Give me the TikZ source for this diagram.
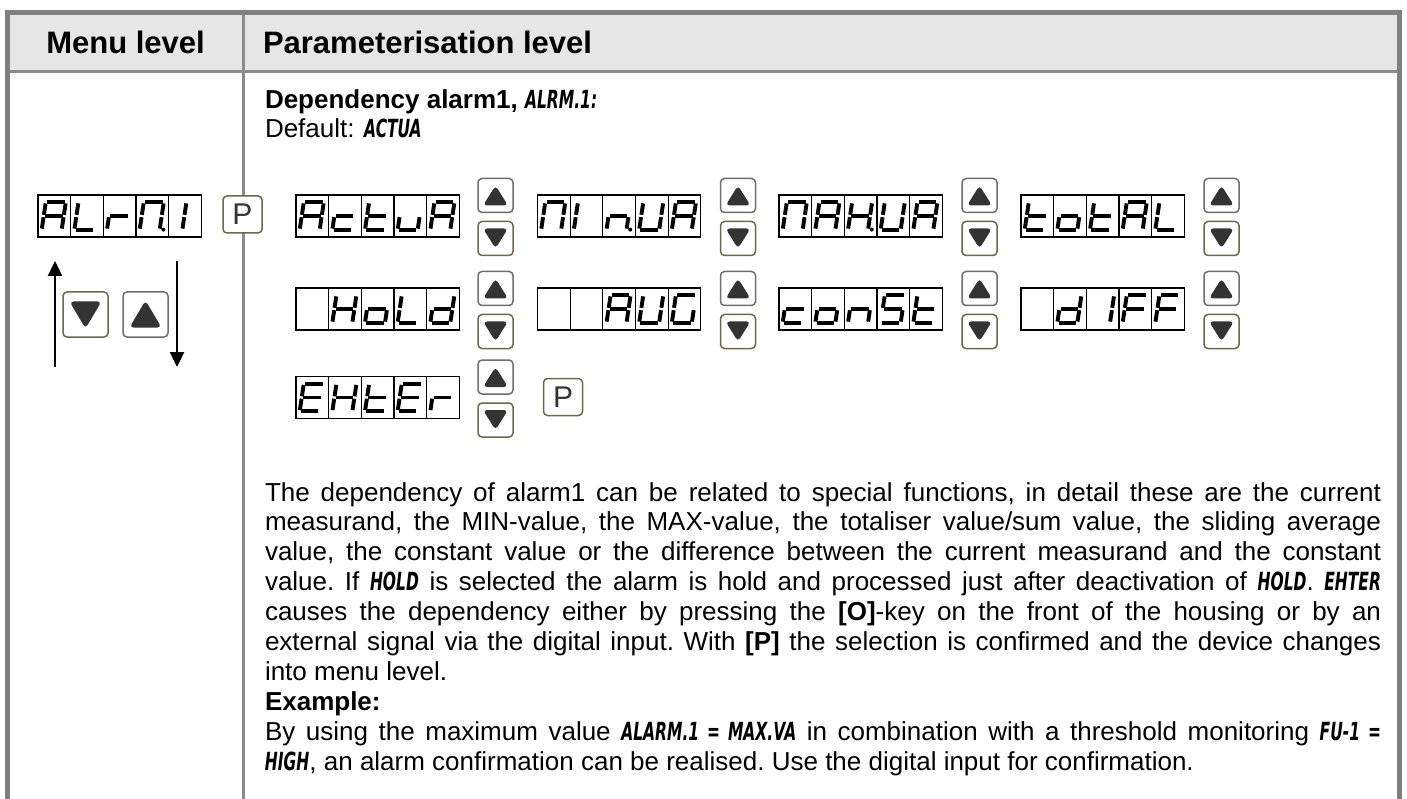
\documentclass[tikz,border=0pt]{standalone}
\usepackage{fontspec}
\setmainfont{Liberation Sans}
\newfontfamily\lcdfont[FakeStretch=0.62]{DejaVu Sans}
\usetikzlibrary{arrows.meta}
\definecolor{bordergray}{HTML}{808080}
\definecolor{gridgray}{HTML}{8C8C8C}
\definecolor{headfill}{HTML}{E6E6E6}
\definecolor{keyedge}{HTML}{6E6E6E}
\definecolor{keyedgeb}{HTML}{6B684C}
\definecolor{keytri}{HTML}{333333}
\newcommand{\lcd}[1]{{\fontsize{25}{25}\lcdfont\bfseries\itshape #1}}
% segment lists: points 1 TL,2 TR,3 ML,4 MR,5 BL,6 BR,7/8/9 centre column
\def\chA{1/2,2/4,4/6,3/5,1/3,3/4}
\def\chc{5/6,3/5,3/4}
\def\cht{5/6,3/5,1/3,3/4}
\def\chu{4/6,5/6,3/5}
\def\chPi{1/2,2/4,4/6,3/5,1/3}
\def\chn{4/6,3/5,3/4}
\def\chU{2/4,4/6,5/6,3/5,1/3}
\def\chH{2/4,4/6,3/5,1/3,3/4}
\def\cho{4/6,5/6,3/5,3/4}
\def\chL{5/6,3/5,1/3}
\def\chd{2/4,4/6,5/6,3/5,3/4}
\def\chG{1/2,4/6,5/6,3/5,1/3}
\def\chS{1/2,4/6,5/6,1/3,3/4}
\def\chE{1/2,5/6,3/5,1/3,3/4}
\def\chr{3/5,3/4}
\def\chF{1/2,3/5,1/3,3/4}
\def\chOneR{2/4,4/6}
\def\chOneL{3/5,1/3}
\def\chOneC{7/8,8/9}
\def\chN{}
\newcommand{\lcdcell}[3]{%
  \ifx#3\chN\else
  \begin{scope}[shift={(#1+7.8,#2+7.2)},xslant=0.15]
    \coordinate (pt1) at (0,0);   \coordinate (pt2) at (20,0);
    \coordinate (pt3) at (0,13.8);\coordinate (pt4) at (20,13.8);
    \coordinate (pt5) at (0,27.6);  \coordinate (pt6) at (20,27.6);
    \coordinate (pt7) at (10,0);  \coordinate (pt8) at (10,13.8);
    \coordinate (pt9) at (10,27.6);
    \foreach \s/\e in #3 {\draw[lcdseg] (pt\s) -- (pt\e);}
  \end{scope}\fi}
\newcommand{\lcddisp}[8]{%
  \node[lcdbox, anchor=north west] (#1) at (#2,#3) {};
  \foreach \i in {1,...,4} {\draw[cellline] ({#2+\i*32.66},#3) -- ++(0,42);}
  \lcdcell{#2}{#3}{#4}
  \lcdcell{#2+32.66}{#3}{#5}
  \lcdcell{#2+65.32}{#3}{#6}
  \lcdcell{#2+97.98}{#3}{#7}
  \lcdcell{#2+130.64}{#3}{#8}}
\newcommand{\lcddp}[3]{\fill ({#1+#3*32.66+27.4},{#2+34.6}) circle (2);}
\begin{document}
\begin{tikzpicture}[x=1pt,y=-1pt,
  every node/.style={inner sep=0pt,outer sep=0pt},
  outerline/.style={draw=bordergray,line width=5pt},
  gridline/.style={draw=gridgray,line width=2.5pt},
  headtext/.style={font=\fontsize{31}{36}\selectfont\bfseries},
  bodytext/.style={font=\fontsize{26}{29.9}\selectfont},
  lcdbox/.style={draw=black,line width=1.1pt,minimum width=163.3pt,minimum height=42pt},
  cellline/.style={draw=black,line width=1.1pt},
  lcdseg/.style={line width=3.9pt,shorten <=1.2pt,shorten >=1.2pt},
  keybox/.style={draw=keyedge,fill=white,line width=1.5pt,rounded corners=4pt,minimum width=35pt,minimum height=34pt},
  ukey/.style={keybox,path picture={\fill[keytri] ([shift={(-12.5,10)}]path picture bounding box.center) -- ([shift={(12.5,10)}]path picture bounding box.center) -- ([shift={(0,-10)}]path picture bounding box.center) -- cycle;}},
  dkey/.style={keybox,draw=keyedgeb,path picture={\fill[keytri] ([shift={(-12.5,-10)}]path picture bounding box.center) -- ([shift={(12.5,-10)}]path picture bounding box.center) -- ([shift={(0,10)}]path picture bounding box.center) -- cycle;}},
  ukeyL/.style={keybox,minimum width=45pt,minimum height=45pt,path picture={\fill[keytri] ([shift={(-16,13)}]path picture bounding box.center) -- ([shift={(16,13)}]path picture bounding box.center) -- ([shift={(0,-14)}]path picture bounding box.center) -- cycle;}},
  dkeyL/.style={keybox,draw=keyedgeb,minimum width=45pt,minimum height=45pt,path picture={\fill[keytri] ([shift={(-16,-13)}]path picture bounding box.center) -- ([shift={(16,-13)}]path picture bounding box.center) -- ([shift={(0,14)}]path picture bounding box.center) -- cycle;}},
  pkey/.style={keybox,draw=keyedgeb,minimum width=39pt,minimum height=37pt,text=keytri,font=\fontsize{30}{30}\selectfont},
  navarrow/.style={draw=black,line width=2.4pt,-{Triangle[length=15pt,width=14pt]}}
]
\useasboundingbox (0,0) rectangle (1407,799);
% table frame
\fill[headfill] (7.5,12.5) rectangle (1399.5,71.7);
\draw[gridline] (7.5,71.7) -- (1399.5,71.7);
\draw[gridline] (243.5,12.5) -- (243.5,812);
\draw[outerline] (7.5,815) -- (7.5,12.5) -- (1399.5,12.5) -- (1399.5,815);
% header
\node[headtext,anchor=base] (hMenu) at (125.5,54) {Menu level};
\node[headtext,anchor=base west] (hParam) at (263,54) {Parameterisation level};
% title lines
\node[bodytext,anchor=base west] (title) at (265,109) {\textbf{Dependency alarm1,} \lcd{ALRM.1:}};
\node[bodytext,anchor=base west] (default) at (265,138) {Default: \lcd{ACTUA}};
% menu level column
\lcddisp{dAlrm}{38}{195}{\chA}{\chL}{\chr}{\chPi}{\chOneC}
\lcddp{38}{195}{3}
\node[pkey] (pMenu) at (242.5,214.5) {P};
\node[dkeyL] (kMenuDown) at (85.5,314.5) {};
\node[ukeyL] (kMenuUp) at (145.5,314.5) {};
\coordinate (upStart) at (55,367);
\coordinate (upEnd) at (55,261);
\coordinate (dnStart) at (177,261);
\coordinate (dnEnd) at (177,367);
\draw[navarrow] (upStart) -- (upEnd);
\draw[navarrow] (dnStart) -- (dnEnd);
% row 1
\lcddisp{dActua}{296}{195}{\chA}{\chc}{\cht}{\chu}{\chA}
\lcddisp{dMinva}{537.5}{195}{\chPi}{\chOneL}{\chn}{\chU}{\chA}
\lcddp{537.5}{195}{2}
\lcddisp{dMaxva}{779}{195}{\chPi}{\chA}{\chH}{\chU}{\chA}
\lcddp{779}{195}{2}
\lcddisp{dTotal}{1021}{195}{\cht}{\cho}{\cht}{\chA}{\chL}
% row 2
\lcddisp{dHold}{296}{288}{\chN}{\chH}{\cho}{\chL}{\chd}
\lcddisp{dAvg}{537.5}{288}{\chN}{\chN}{\chA}{\chU}{\chG}
\lcddisp{dConst}{779}{288}{\chc}{\cho}{\chn}{\chS}{\cht}
\lcddisp{dDiff}{1021}{288}{\chN}{\chd}{\chOneR}{\chF}{\chF}
% row 3
\lcddisp{dExter}{296}{376.5}{\chE}{\chH}{\cht}{\chE}{\chr}
% up/down keys
\node[ukey] (u11) at (495.5,195.5) {}; \node[dkey] (d11) at (495.5,238.5) {};
\node[ukey] (u12) at (738,195.5) {};   \node[dkey] (d12) at (738,238.5) {};
\node[ukey] (u13) at (979.5,195.5) {}; \node[dkey] (d13) at (979.5,238.5) {};
\node[ukey] (u14) at (1221.5,195.5) {};\node[dkey] (d14) at (1221.5,238.5) {};
\node[ukey] (u21) at (495.5,288.5) {}; \node[dkey] (d21) at (495.5,331.5) {};
\node[ukey] (u22) at (738,288.5) {};   \node[dkey] (d22) at (738,331.5) {};
\node[ukey] (u23) at (979.5,288.5) {}; \node[dkey] (d23) at (979.5,331.5) {};
\node[ukey] (u24) at (1221.5,288.5) {};\node[dkey] (d24) at (1221.5,331.5) {};
\node[ukey] (u31) at (495.5,377) {};   \node[dkey] (d31) at (495.5,420) {};
\node[pkey] (pExit) at (563,397) {P};
% description
\node[bodytext,anchor=base west,text width=1116pt,align=justify] (para) at (265,501) {%
\tolerance=10000\hbadness=10000\hyphenpenalty=10000\exhyphenpenalty=10000\parindent=0pt\frenchspacing
The dependency of alarm1 can be related to special functions, in detail these are the current\linebreak
measurand, the MIN-value, the MAX-value, the totaliser value/sum value, the sliding average\linebreak
value, the constant value or the difference between the current measurand and the constant\linebreak
value. If \lcd{HOLD} is selected the alarm is hold and processed just after deactivation of \lcd{HOLD}. \lcd{EHTER}\linebreak
causes the dependency either by pressing the \textbf{[O]}-key on the front of the housing or by an\linebreak
external signal via the digital input. With \textbf{[P]} the selection is confirmed and the device changes\linebreak
into menu level.\par
\textbf{Example:}\par
By using the maximum value \lcd{ALARM.1 = MAX.VA} in combination with a threshold monitoring \lcd{FU-1 =}\linebreak
\lcd{HIGH}, an alarm confirmation can be realised. Use the digital input for confirmation.\par};
\end{tikzpicture}
\end{document}
